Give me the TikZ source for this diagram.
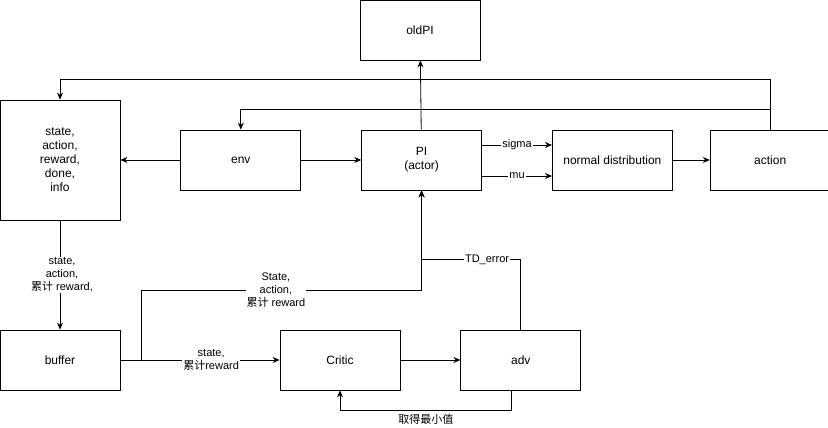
\documentclass[tikz,border=0pt]{standalone}
\usepackage{fontspec}
\setmainfont{Liberation Sans}
\newfontfamily\cjk{Noto Sans CJK SC}
\usetikzlibrary{positioning,arrows.meta}

\begin{document}
\begin{tikzpicture}[x=1pt, y=-1pt, node distance=60pt, line width=0.8pt,
    box/.style={draw, minimum width=120pt, minimum height=60pt, inner sep=0pt,
                align=center, font=\fontsize{12}{14}\selectfont},
    lbl/.style={fill=white, inner sep=1pt, align=center,
                font=\fontsize{11}{13}\selectfont},
    >={Stealth[length=7pt,width=6pt]}]
    \useasboundingbox (0,0) rectangle (828,428);
    \node[box, minimum height=120pt] (state) at (60,160) {state,\\action,\\reward,\\done,\\info};
    \node[box, right=of state]       (env)    {env};
    \node[box, right=of env]         (pi)     {PI\\(actor)};
    \node[box, right=70pt of pi]     (normal) {normal distribution};
    \node[box, right=37pt of normal] (action) {action};
    \node[box] (oldpi)  at (420,30)  {oldPI};
    \node[box] (buffer) at (60,360)  {buffer};
    \node[box] (critic) at (340,360) {Critic};
    \node[box, right=of critic]      (adv)    {adv};
    \draw[->] (env) -- (state);
    \draw[->] (env) -- (pi);
    \draw[->] (pi)  -- (oldpi);
    \draw[->] ([yshift=15pt]pi.east)  -- node[lbl] {sigma} ([yshift=15pt]normal.west);
    \draw[->] ([yshift=-16pt]pi.east) -- node[lbl] {mu}    ([yshift=-16pt]normal.west);
    \draw[->] (normal) -- (action);
    \draw[->] (action.north) -- ++(0,-50) -| (state.north);
    \draw[->] (action.north) -- ++(0,-20) -| (env.north);
    \draw[->] (state) -- node[lbl, xshift=2pt] {state,\\action,\\{\cjk 累计} reward,} (buffer);
    \draw[->] (buffer) -- node[lbl, pos=0.57] {state,\\{\cjk 累计}reward} (critic);
    \draw[->] (buffer.east) -- ++(21,0) -- ++(0,-70)
        -| node[lbl, pos=0.24] {State,\\action,\\{\cjk 累计} reward} (pi.south);
    \draw[->] (adv.north) -- ++(0,-70) -| node[lbl, pos=0.17] {TD\_error} (pi.south);
    \draw[->] (critic) -- (adv);
    \draw[->] ([xshift=-9pt]adv.south) -- ++(0,20)
        -| node[below, pos=0.25, font=\fontsize{11}{13}\selectfont] {\cjk 取得最小值} (critic.south);
\end{tikzpicture}
\end{document}
